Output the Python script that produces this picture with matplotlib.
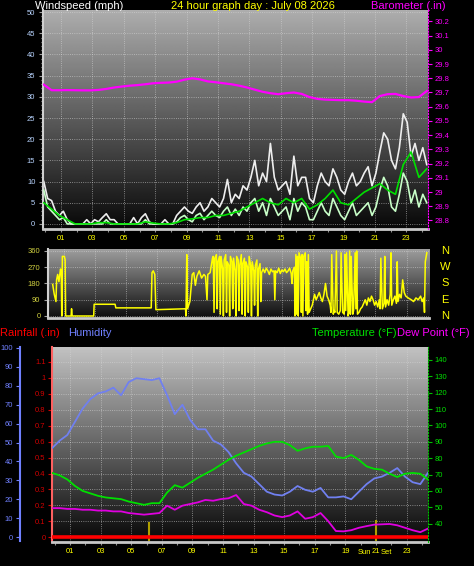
import matplotlib.pyplot as plt
import numpy as np

plt.rcParams['font.family'] = ['Liberation Sans', 'DejaVu Sans']

# ---- wind (mph), 15 min samples over the day
wind_gust = [10, 6, 5.5, 3, 2, 3, 1, 0, 0, 0,
             0, 1, 0, 1, 0.5, 1.5, 2.4, 1, 1, 0,
             0, 0, 0, 1.5, 0, 1.5, 2.4, 0.5, 0, 0,
             0, 1, 0, 0, 2, 3, 4, 3, 2.5, 4,
             5, 3, 4, 6, 5, 4, 6, 10.5, 5, 7,
             6, 9, 8, 11, 15, 9, 12, 10, 19, 11,
             8, 9, 10, 7, 16, 9, 11, 11, 6, 5,
             9, 12, 10, 9, 13, 11, 8, 7, 10, 12,
             9, 10, 12, 13.5, 9, 12, 17, 21.5, 20, 15,
             13, 18, 26, 24, 16, 19, 15, 18, 14]
wind_speed = [8, 4, 3, 2, 1, 1.5, 0, 0, 0, 0,
              0, 0, 0, 0, 0, 0, 1, 0, 0, 0,
              0, 0, 0, 0, 0, 0, 1, 0, 0, 0,
              0, 0, 0, 0, 0.5, 1.5, 2, 1, 0.5, 2,
              2.5, 1, 2, 3, 2, 1.5, 3, 4, 2, 3.5,
              2, 4, 3, 5, 6, 3, 5, 2, 6, 4,
              2, 3, 4, 1, 6, 3, 5, 4, 1, 1,
              3, 5, 3, 2, 6, 4, 2, 1, 3, 5,
              2, 3, 4, 5, 2, 4, 8, 11, 9, 4,
              3, 7, 12, 10, 5, 8, 4, 7, 5]
# 30 min samples
wind_avg = [5, 3.5, 2, 1, 0, 0, 0, 0.3, 0.3, 0,
            0, 0, 0, 0.5, 0.2, 0, 0, 0.3, 1, 1.2,
            1.5, 1.5, 2, 2, 2.5, 3, 4, 5, 6, 5,
            4.5, 6, 5, 6, 3.5, 4.5, 6, 8, 5, 4.5,
            6, 7.5, 8.5, 9.5, 8, 7, 14, 17, 11, 13]
barometer = [29.755, 29.716, 29.716, 29.717, 29.716, 29.715, 29.715, 29.718, 29.725, 29.735,
             29.742, 29.748, 29.752, 29.758, 29.765, 29.768, 29.770, 29.776, 29.790, 29.800,
             29.792, 29.778, 29.772, 29.765, 29.758, 29.748, 29.735, 29.720, 29.705, 29.695,
             29.688, 29.695, 29.700, 29.690, 29.668, 29.655, 29.650, 29.648, 29.646, 29.646,
             29.642, 29.636, 29.632, 29.675, 29.688, 29.690, 29.675, 29.665, 29.668, 29.710]

# ---- wind direction (degrees)
dir_hours = [0.30, 0.40, 0.51, 0.55, 0.62, 0.70, 0.80, 0.85, 0.88, 0.92,
             1.05, 1.10, 1.13, 1.48, 1.51, 1.55, 2.93, 2.96, 4.30, 4.35,
             6.62, 6.67, 6.75, 6.85, 6.92, 8.82, 8.85, 8.90, 8.95, 9.10,
             9.25, 9.35, 9.45, 9.55, 9.70, 9.85, 10.00, 10.10, 10.20, 10.25,
             10.40, 10.55, 10.60, 10.65, 10.70, 10.80, 10.85, 10.90, 11.00, 11.05,
             11.10, 11.20, 11.25, 11.30, 11.40, 11.45, 11.50, 11.60, 11.65, 11.70,
             11.80, 11.85, 11.90, 12.00, 12.05, 12.10, 12.20, 12.25, 12.30, 12.40,
             12.45, 12.50, 12.60, 12.65, 12.70, 12.80, 12.85, 12.90, 13.00, 13.05,
             13.10, 13.20, 13.25, 13.30, 13.40, 13.45, 13.50, 13.60, 13.65, 13.70,
             13.80, 13.90, 14.00, 14.10, 14.20, 14.30, 14.40, 14.50, 14.55, 14.60,
             14.70, 14.80, 14.90, 15.00, 15.10, 15.20, 15.30, 15.40, 15.50, 15.60,
             15.65, 15.70, 15.80, 15.85, 15.90, 15.95, 16.00, 16.05, 16.10, 16.20,
             16.25, 16.30, 16.35, 16.40, 16.50, 16.55, 16.60, 16.65, 16.70, 16.75,
             16.85, 16.95, 17.10, 17.20, 17.30, 17.40, 17.50, 17.60, 17.70, 17.80,
             17.90, 18.00, 18.10, 18.15, 18.20, 18.30, 18.35, 18.40, 18.50, 18.55,
             18.65, 18.75, 18.80, 18.90, 19.00, 19.05, 19.10, 19.15, 19.25, 19.30,
             19.35, 19.40, 19.45, 19.55, 19.60, 19.70, 19.75, 19.80, 19.85, 19.95,
             20.05, 20.15, 20.25, 20.35, 20.45, 20.55, 20.65, 20.75, 20.85, 20.95,
             21.05, 21.15, 21.25, 21.30, 21.35, 21.45, 21.55, 21.60, 21.65, 21.75,
             21.85, 21.95, 22.00, 22.05, 22.15, 22.25, 22.35, 22.40, 22.45, 22.55,
             22.65, 22.75, 22.85, 22.95, 23.10, 23.30, 23.45, 23.60, 23.75, 23.90,
             24.00, 24.10, 24.15, 24.20, 24.30]
dir_deg = [175, 120, 80, 200, 230, 190, 260, 250, 0, 330,
           330, 310, 0, 0, 40, 0, 0, 65, 65, 45,
           45, 240, 250, 230, 35, 40, 0, 340, 40, 80,
           230, 240, 170, 220, 250, 210, 230, 220, 90, 230,
           240, 320, 330, 20, 320, 340, 40, 300, 330, 10,
           330, 260, 0, 310, 340, 20, 300, 280, 0, 330,
           300, 40, 320, 250, 0, 330, 310, 30, 280, 340,
           10, 290, 320, 0, 300, 270, 20, 330, 280, 0,
           300, 250, 60, 280, 310, 0, 260, 290, 80, 240,
           260, 240, 265, 250, 230, 260, 245, 250, 90, 250,
           240, 265, 235, 255, 245, 260, 240, 250, 265, 235,
           180, 250, 270, 0, 340, 10, 330, 0, 350, 320,
           20, 340, 0, 330, 350, 30, 300, 10, 340, 20,
           40, 60, 120, 90, 110, 130, 100, 80, 120, 180,
           110, 90, 60, 20, 340, 10, 30, 20, 360, 20,
           10, 30, 350, 20, 10, 340, 30, 350, 0, 20,
           360, 10, 330, 10, 30, 350, 40, 360, 10, 20,
           40, 50, 70, 90, 60, 100, 80, 110, 90, 60,
           80, 50, 90, 40, 320, 40, 70, 330, 50, 90,
           60, 120, 350, 60, 90, 110, 70, 300, 80, 120,
           100, 200, 130, 110, 100, 90, 80, 100, 90, 110,
           80, 100, 20, 300, 350]

# ---- bottom panel, 30 min samples
humidity = [47, 51, 54, 61, 68, 73, 76, 77, 79, 75,
            82, 84, 83.5, 83, 84, 75, 65, 70, 62, 57,
            57, 51, 49, 45, 39, 34, 32, 28, 24, 22.5,
            22, 24, 27, 25, 24, 26, 21, 21, 21.5, 20,
            24, 28, 31, 32, 34, 36.5, 32, 29, 28, 34]
temperature = [71, 69.5, 67, 63, 60, 58.5, 57, 56, 55.5, 55,
               53.5, 52.5, 51.5, 52.5, 52.5, 59, 63.5, 62, 65, 68,
               70.5, 73, 76, 79, 81.5, 83.5, 85.5, 87.5, 89, 90,
               90, 88, 84.5, 86, 87, 87, 87.5, 81, 80, 82,
               79, 75, 73.5, 73, 70.5, 68.5, 70.5, 71, 70.5, 67]
dew_point = [49.5, 49.5, 49, 49, 48.5, 48.5, 48, 48, 47.5, 47.5,
             46.5, 46, 45.5, 46, 46.5, 51, 48.5, 51, 52, 53,
             54.5, 54, 55, 55.5, 57.5, 52, 51, 48.5, 47, 45,
             44, 45, 47.5, 43, 44, 46.5, 41.5, 35.5, 35.3, 36,
             37.5, 38.5, 39.4, 39.6, 39.8, 39, 37.5, 36, 34.8, 37]
rain_in = [0.0, 0.0, 0.0, 0.0, 0.0, 0.0, 0.0, 0.0, 0.0, 0.0, 0.0, 0.0, 0.0,
           0.0, 0.0, 0.0, 0.0, 0.0, 0.0, 0.0, 0.0, 0.0, 0.0, 0.0, 0.0]
sunrise_h = 6.15
sunset_h = 21.0

hour_ticks = [1, 3, 5, 7, 9, 11, 13, 15, 17, 19, 21, 23]
hour_labels = ['01', '03', '05', '07', '09', '11', '13', '15', '17', '19', '21', '23']
compass = ['N', 'W', 'S', 'E', 'N']

BLACK = 'black'
YEL = '#ffff00'
MAG = '#ff00ff'
FS = 5.5

def gradient(ax, top, bottom):
    g = np.linspace(top, bottom, 256).reshape(-1, 1)
    ax.imshow(g, cmap='gray', vmin=0, vmax=1, aspect='auto',
              extent=[0, 1, 0, 1], transform=ax.transAxes, zorder=0)

def style_x(ax, labels=True):
    ax.set_xticks(hour_ticks)
    ax.set_xticks(np.arange(0, 25), minor=True)
    if labels:
        ax.set_xticklabels(hour_labels)
    else:
        ax.set_xticklabels([])
    ax.tick_params(axis='x', which='both', colors='#909090', labelcolor=YEL,
                   labelsize=FS, length=2.5, width=0.8, pad=2)
    ax.grid(True, color='#d8d8d8', ls=':', lw=0.6, alpha=0.7)
    ax.set_axisbelow(True)
    ax.spines['top'].set_visible(False)
    ax.spines['right'].set_visible(False)
    ax.spines['bottom'].set_color('#c8c8c8')
    ax.spines['bottom'].set_linewidth(2)
    ax.spines['left'].set_color('#d0d0d0')
    ax.spines['left'].set_linewidth(1.5)

fig = plt.figure(figsize=(4.74, 5.66), dpi=100, facecolor=BLACK)

# ================= top: wind + barometer
ax1 = fig.add_axes([0.0907, 0.5954, 0.8122, 0.3869])
gradient(ax1, 0.68, 0.03)
t_wind = np.linspace(-0.1, 24.3, len(wind_gust))
t_avg = np.linspace(-0.1, 24.3, len(wind_avg))
ax1.plot(t_wind, wind_gust, color='#eeeeee', lw=1.2, zorder=2)
ax1.plot(t_wind, wind_speed, color='#c8ffc8', lw=1.2, zorder=3)
ax1.plot(t_avg, wind_avg, color='#00e000', lw=1.2, zorder=4)
ax1.set_xlim(-0.15, 24.38)
ax1.set_ylim(-1.2, 50.5)
ax1.set_yticks(np.arange(0, 51, 5))
ax1.set_yticks(np.arange(0, 51, 1), minor=True)
style_x(ax1)
ax1.tick_params(axis='y', which='both', colors='#a0a0a0', labelcolor='#b8d4ff',
                labelsize=FS, length=3, width=0.8, pad=2.5)
ax1.tick_params(axis='y', which='minor', length=1.5)

ax1b = ax1.twinx()
t_baro = np.linspace(-0.1, 24.3, len(barometer))
ax1b.plot(t_baro, barometer, color=MAG, lw=1.6)
ax1b.set_ylim(28.74, 30.28)
baro_ticks = np.round(np.arange(28.8, 30.25, 0.1), 1)
ax1b.set_yticks(baro_ticks)
ax1b.set_yticklabels(['%g' % v for v in baro_ticks])
ax1b.tick_params(axis='y', colors=MAG, labelcolor=MAG, labelsize=FS,
                 length=3, width=0.8, pad=2)
for s in ['top', 'left', 'bottom']:
    ax1b.spines[s].set_visible(False)
ax1b.spines['right'].set_color(MAG)
ax1b.spines['right'].set_linestyle(':')

# ================= middle: wind direction
ax2 = fig.add_axes([0.1013, 0.4382, 0.8038, 0.1219])
gradient(ax2, 0.62, 0.05)
ax2.plot(dir_hours, dir_deg, color=YEL, lw=1.1, zorder=3)
ax2.set_xlim(0.17, 24.44)
ax2.set_ylim(-11, 371)
ax2.set_yticks([0, 90, 180, 270, 360])
style_x(ax2, labels=False)
ax2.tick_params(axis='x', which='both', length=0)
ax2.tick_params(axis='y', colors='#a0a0a0', labelcolor='#d0d040',
                labelsize=FS, length=3, width=0.8, pad=2.5)
for lab, deg in zip(compass, [360, 270, 180, 90, 0]):
    y = (316 - deg * 65 / 360) / 566
    fig.text(445 / 474, 1 - y, lab, color=YEL, fontsize=8, ha='center', va='center')

# ================= bottom: rain / humidity / temperature / dew point
ax3 = fig.add_axes([0.1097, 0.0424, 0.7932, 0.3445])
gradient(ax3, 0.76, 0.03)
t_rain = np.linspace(-0.18, 24.4, len(rain_in))
ax3.set_xlim(-0.18, 24.4)
ax3.set_ylim(-0.03, 1.194)
rain_ticks = np.round(np.arange(0, 1.15, 0.1), 1)
ax3.set_yticks(rain_ticks)
ax3.set_yticklabels(['%g' % v for v in rain_ticks])
style_x(ax3)
ax3.tick_params(axis='y', colors='#d00000', labelcolor='#d00000',
                labelsize=FS, length=3, width=0.8, pad=1.5)
ax3.spines['left'].set_color('#ff6060')
ax3.spines['left'].set_linestyle((0, (2, 1)))
ax3.axvline(sunrise_h, ymin=0.01, ymax=0.10, color='#b0a000', lw=1.5, zorder=2)
ax3.axvline(sunset_h, ymin=0.01, ymax=0.11, color='#b0a000', lw=1.5, zorder=2)
# "Sun Set" label wrapped around the 21 tick label
xt = ax3.get_xaxis_transform()
ax3.annotate('Sun', (sunset_h, -0.052), xycoords=xt, xytext=(-3.2, 0),
             textcoords='offset points', color=YEL, fontsize=FS, ha='right', va='center')
ax3.annotate('Set', (sunset_h, -0.052), xycoords=xt, xytext=(3.2, 0),
             textcoords='offset points', color=YEL, fontsize=FS, ha='left', va='center')

ax3h = ax3.twinx()
t_b = np.linspace(-0.18, 24.4, len(humidity))
ax3h.plot(t_b, humidity, color='#7080f0', lw=1.3)
ax3h.set_ylim(-2.6, 100.5)
ax3h.set_yticks(np.arange(0, 101, 10))
ax3h.yaxis.set_ticks_position('left')
ax3h.spines['left'].set_visible(True)
ax3h.spines['left'].set_position(('outward', 23))
ax3h.spines['left'].set_color('#7080ff')
ax3h.spines['left'].set_linewidth(1.5)
ax3h.spines['left'].set_bounds(-2, 100.5)
for s in ['top', 'right', 'bottom']:
    ax3h.spines[s].set_visible(False)
ax3h.tick_params(axis='y', colors='#7080ff', labelcolor='#7080ff',
                 labelsize=FS, length=3, width=0.8, pad=2)

ax3t = ax3.twinx()
ax3t.plot(t_b, temperature, color='#00e000', lw=1.3)
ax3t.plot(t_b, dew_point, color='#e000e0', lw=1.3)
ax3t.set_ylim(28.8, 147.9)
ax3t.set_yticks(np.arange(40, 141, 10))
for s in ['top', 'left', 'bottom']:
    ax3t.spines[s].set_visible(False)
ax3t.spines['right'].set_color('#00c000')
ax3t.spines['right'].set_linestyle(':')
ax3t.tick_params(axis='y', colors='#00c000', labelcolor='#00e000',
                 labelsize=FS, length=3, width=0.8, pad=2)

# rainfall drawn on top
ax3r = ax3.twinx()
ax3r.plot(t_rain, rain_in, color='#ff0000', lw=2.6)
ax3r.set_ylim(ax3.get_ylim())
ax3r.set_yticks([])
for s in ax3r.spines.values():
    s.set_visible(False)

# ================= titles
fig.text(35 / 474, 1 - 6 / 566, 'Windspeed (mph)', color='white', fontsize=8, va='center')
fig.text(253 / 474, 1 - 6 / 566, '24 hour graph day : July 08 2026', color=YEL,
         fontsize=8, ha='center', va='center')
fig.text(446 / 474, 1 - 6 / 566, 'Barometer (.in)', color=MAG, fontsize=8,
         ha='right', va='center')
fig.text(0, 1 - 333 / 566, 'Rainfall (.in)', color='#ff0000', fontsize=8, va='center')
fig.text(68 / 474, 1 - 333 / 566, 'Humidity', color='#7080ff', fontsize=8, va='center')
fig.text(397 / 474, 1 - 333 / 566, 'Temperature (°F)', color='#00e000', fontsize=8,
         ha='right', va='center')
fig.text(470 / 474, 1 - 333 / 566, 'Dew Point (°F)', color=MAG, fontsize=8,
         ha='right', va='center')

fig.savefig('out.png', dpi=100, facecolor=BLACK)
